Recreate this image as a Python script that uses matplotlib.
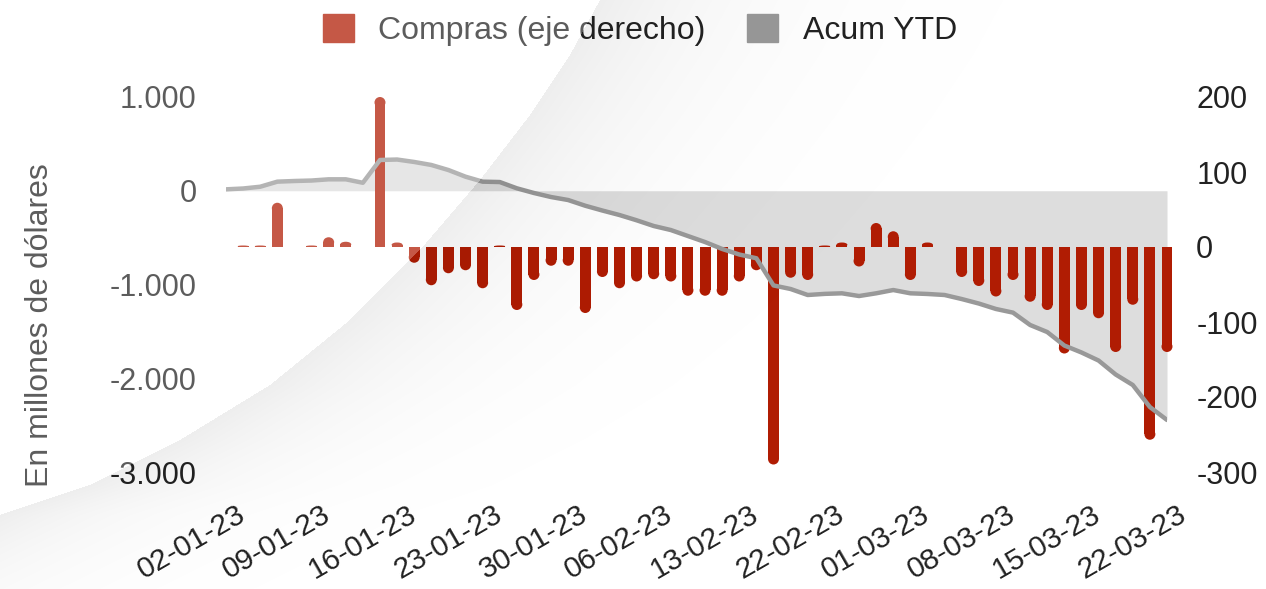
import numpy as np
import pandas as pd
import matplotlib
matplotlib.use('Agg')
import matplotlib.pyplot as plt
from matplotlib.patches import Patch, Ellipse
from matplotlib.transforms import ScaledTranslation

plt.rcParams['font.family'] = ['Liberation Sans', 'DejaVu Sans']
plt.rcParams['axes.unicode_minus'] = False

# dias habiles (feriados de carnaval 20 y 21 de febrero)
dias = pd.bdate_range('2023-01-02', '2023-03-22', freq='C',
                      holidays=['2023-02-20', '2023-02-21']).strftime('%d-%m-%y').tolist()

# compras diarias, eje derecho
compras = [0, 2, 2, 59, 0, 2, 13, 7, 0, 200,
           6, -21, -51, -35, -31, -55, 2, -84, -44, -25,
           -25, -88, -40, -55, -46, -43, -46, -65, -65, -65,
           -46, -31, -290, -41, -44, 2, 6, -26, 32, 21,
           -44, 6, 0, -40, -52, -66, -44, -73, -84, -142,
           -84, -95, -140, -77, -257, -140]

# acumulado en el anio, eje izquierdo
acum_ytd = [15, 24, 43, 97, 104, 109, 122, 122, 85, 328,
            333, 307, 275, 221, 150, 97, 93, 26, -24, -67,
            -99, -160, -211, -259, -315, -376, -419, -483, -547, -621,
            -680, -720, -1010, -1048, -1112, -1100, -1094, -1123, -1094, -1059,
            -1094, -1101, -1112, -1155, -1203, -1261, -1300, -1432, -1507, -1651,
            -1725, -1811, -1960, -2072, -2307, -2445]

ticks_izq = [1000, 0, -1000, -2000, -3000]
etiquetas_izq = ['1.000', '0', '-1.000', '-2.000', '-3.000']
ticks_der = [200, 100, 0, -100, -200, -300]

rojo = '#b01c03'
gris = '#999999'
relleno = '#dddddd'
texto = '#222222'

W, H = 1266, 589
fig = plt.figure(figsize=(W / 100, H / 100), dpi=100)
fig.patch.set_facecolor('white')
pos = [226 / W, (H - 472) / H, (1167 - 226) / W, (472 - 97) / H]

ax = fig.add_axes(pos)
ax_b = ax.twinx()
ax_l = fig.add_axes(pos, sharex=ax, sharey=ax)

x = np.arange(len(dias))

# area acumulada
ax.fill_between(x, acum_ytd, 0, color=relleno, lw=0)
ax.set_xlim(0, len(dias) - 1)
ax.set_ylim(-3000, 1000)
ax.set_yticks(ticks_izq, etiquetas_izq)

# barras con punta redondeada
ax_b.set_ylim(-300, 200)
ax_b.set_yticks(ticks_der, [str(t) for t in ticks_der])
ancho = 0.64
p0 = ax_b.transData.transform((0, 0))
p1 = ax_b.transData.transform((1, 1))
r_y = (ancho / 2) * (p1[0] - p0[0]) / (p1[1] - p0[1])
alturas = []
for v in compras:
    r = min(r_y, abs(v) / 2)
    alturas.append(np.sign(v) * (abs(v) - r))
ax_b.bar(x, alturas, width=ancho, color=rojo, lw=0, clip_on=False)
for xi, v, h in zip(x, compras, alturas):
    if v == 0:
        continue
    r = min(r_y, abs(v) / 2)
    ax_b.add_patch(Ellipse((xi, h), ancho, 2 * r, color=rojo, lw=0, clip_on=False))

# linea acumulada por encima
ax_l.plot(x, acum_ytd, color=gris, lw=3.2, solid_joinstyle='round', solid_capstyle='round')
ax_l.axis('off')
ax_l.patch.set_visible(False)

for a in (ax, ax_b):
    for s in a.spines.values():
        s.set_visible(False)
    a.tick_params(length=0, labelsize=22, colors=texto, pad=21)

ax.set_xticks(x[::5], dias[::5])
ax.tick_params(axis='x', labelsize=21.5, pad=20)
desplaza = ScaledTranslation(10 / 100, 0, fig.dpi_scale_trans)
for lbl in ax.get_xticklabels():
    lbl.set_rotation(30)
    lbl.set_ha('right')
    lbl.set_va('top')
    lbl.set_rotation_mode('anchor')
    lbl.set_transform(lbl.get_transform() + desplaza)

fig.text(40 / W, 1 - 325 / H, 'En millones de dólares', rotation=90,
         ha='center', va='center', fontsize=23, color=texto)

fig.legend(handles=[Patch(color=rojo, label='Compras (eje derecho)'),
                    Patch(color=gris, label='Acum YTD')],
           loc='center', bbox_to_anchor=(640 / W, 1 - 30 / H), ncol=2, frameon=False,
           fontsize=23, handlelength=0.97, handleheight=0.97, handletextpad=0.78,
           columnspacing=1.3, labelcolor=texto)

# fondo decorativo: velo blanco a la izquierda de la curva, sombra suave a la derecha
curva_y = [0, 55, 115, 180, 250, 320, 385, 440, 485, 515, 589]
curva_x = [600, 570, 530, 480, 420, 350, 270, 180, 90, 0, -150]
yy, xx = np.mgrid[0:H, 0:W] + 0.5
d = xx - np.interp(yy, curva_y, curva_x)
img = np.zeros((H, W, 4))
izq = d < 0
img[izq, :3] = 1.0
img[izq, 3] = 0.27
img[~izq, 3] = 0.07 * np.exp(-d[~izq] / 140)
ax_o = fig.add_axes([0, 0, 1, 1], zorder=20)
ax_o.imshow(img, extent=(0, W, H, 0), aspect='auto', interpolation='bilinear')
ax_o.set_xlim(0, W)
ax_o.set_ylim(H, 0)
ax_o.axis('off')

fig.savefig('out.png', dpi=100)
